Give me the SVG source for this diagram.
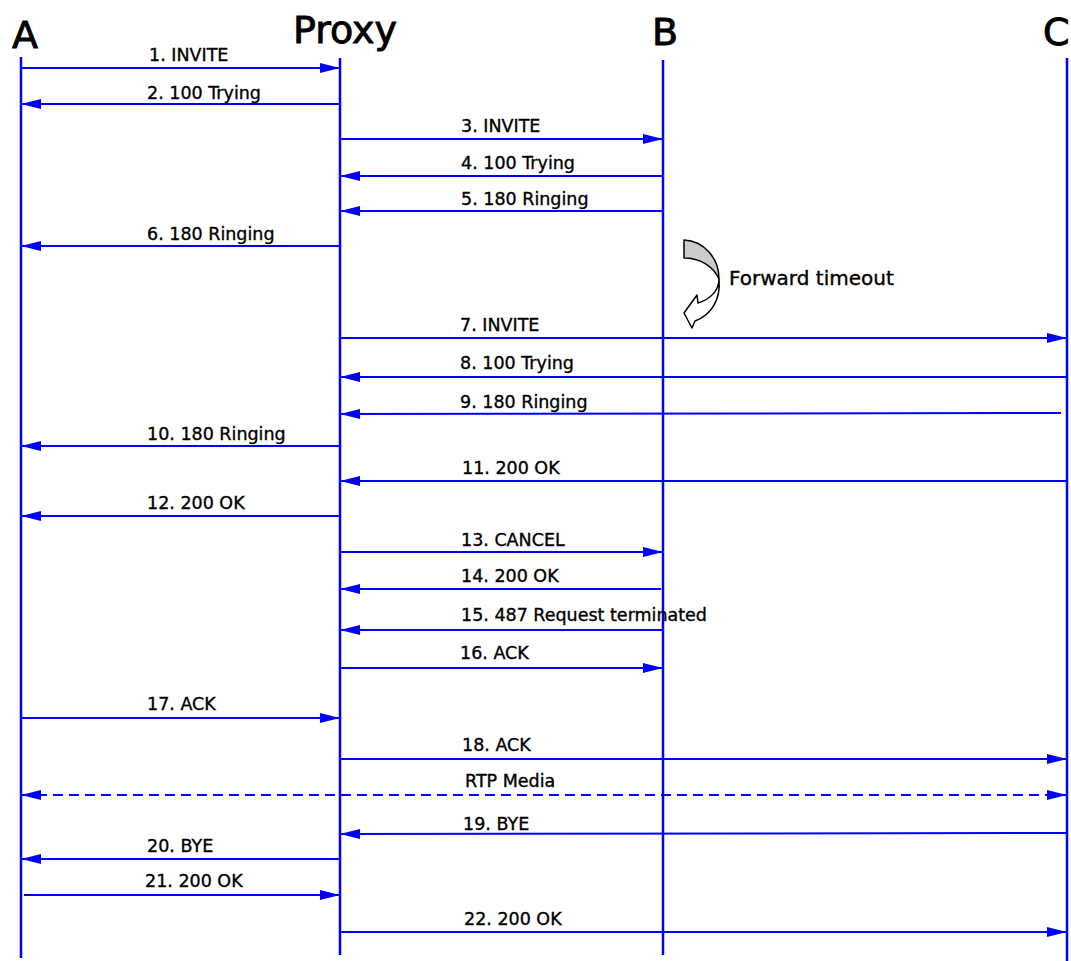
<svg xmlns="http://www.w3.org/2000/svg" width="1071" height="961" viewBox="0 0 1071 961">
<style>
.life{stroke:#0000ff;stroke-width:2.5;fill:none}
.msg{stroke:#0000ff;stroke-width:2;fill:none;marker-end:url(#ah)}
.dash{stroke:#0000ff;stroke-width:2;fill:none;stroke-dasharray:10 6;marker-end:url(#ah);marker-start:url(#ah)}
.lbl{font-family:"DejaVu Sans","Liberation Sans",sans-serif;font-size:17.5px;fill:#000;stroke:#000;stroke-width:0.35}
.hdr{font-family:"DejaVu Sans","Liberation Sans",sans-serif;font-size:38px;fill:#000;stroke:#000;stroke-width:0.9}
</style>
<defs>
<marker id="ah" markerUnits="userSpaceOnUse" markerWidth="20" markerHeight="10" refX="20" refY="5" orient="auto-start-reverse" overflow="visible">
<path d="M0,0 L20,5 L0,10 z" fill="#0000ff"/>
</marker>
</defs>
<rect width="1071" height="961" fill="#ffffff"/>
<g id="A"><text class="hdr" x="12" y="48">A</text><line class="life" x1="21" y1="57" x2="21" y2="958"/></g>
<g id="Proxy"><text class="hdr" x="293" y="43">Proxy</text><line class="life" x1="340" y1="58" x2="340" y2="955"/></g>
<g id="B"><text class="hdr" x="652" y="45">B</text><line class="life" x1="663" y1="60" x2="663" y2="955"/></g>
<g id="C"><text class="hdr" x="1043" y="45">C</text><line class="life" x1="1067" y1="58" x2="1067" y2="961"/></g>
<g id="timeout">
<path d="M684,240 C704,241 719,258 719,279 C713,266 700,258 684,258 Z" fill="#cccccc" stroke="#000" stroke-width="1.5" stroke-linejoin="round"/>
<path d="M719,279 C719,290 711,299 698,303 L697,295 L684,313 L692,328 L695,321 C711,315 721,300 719,279 Z" fill="#ffffff" stroke="#000" stroke-width="1.5" stroke-linejoin="round"/>
<text class="lbl" x="729" y="285" style="font-size:20px">Forward timeout</text>
</g>
<g id="connectors">
<line class="msg" x1="21" y1="68" x2="340" y2="68"/>
<line class="msg" x1="340" y1="104" x2="21" y2="104"/>
<line class="msg" x1="340" y1="139" x2="663" y2="139"/>
<line class="msg" x1="663" y1="176" x2="340" y2="176"/>
<line class="msg" x1="663" y1="211" x2="340" y2="211"/>
<line class="msg" x1="340" y1="246" x2="21" y2="246"/>
<line class="msg" x1="340" y1="338" x2="1067" y2="338"/>
<line class="msg" x1="1067" y1="377" x2="340" y2="377"/>
<line class="msg" x1="1061" y1="413" x2="340" y2="414"/>
<line class="msg" x1="340" y1="446" x2="21" y2="446"/>
<line class="msg" x1="1067" y1="481" x2="340" y2="481"/>
<line class="msg" x1="340" y1="516" x2="21" y2="516"/>
<line class="msg" x1="340" y1="552" x2="663" y2="552"/>
<line class="msg" x1="661" y1="589" x2="340" y2="589"/>
<line class="msg" x1="663" y1="630" x2="340" y2="630"/>
<line class="msg" x1="340" y1="668" x2="663" y2="668"/>
<line class="msg" x1="21" y1="718" x2="340" y2="718"/>
<line class="msg" x1="340" y1="759" x2="1067" y2="759"/>
<line class="dash" x1="21" y1="795" x2="1067" y2="795"/>
<line class="msg" x1="1067" y1="833" x2="340" y2="834"/>
<line class="msg" x1="340" y1="859" x2="21" y2="859"/>
<line class="msg" x1="24" y1="895" x2="340" y2="895"/>
<line class="msg" x1="340" y1="932" x2="1067" y2="932"/>
</g>
<g id="labels">
<text class="lbl" x="149" y="61">1. INVITE</text>
<text class="lbl" x="147" y="99">2. 100 Trying</text>
<text class="lbl" x="461" y="132">3. INVITE</text>
<text class="lbl" x="461" y="169">4. 100 Trying</text>
<text class="lbl" x="461" y="205">5. 180 Ringing</text>
<text class="lbl" x="147" y="240">6. 180 Ringing</text>
<text class="lbl" x="460" y="331">7. INVITE</text>
<text class="lbl" x="460" y="369">8. 100 Trying</text>
<text class="lbl" x="460" y="408">9. 180 Ringing</text>
<text class="lbl" x="147" y="440">10. 180 Ringing</text>
<text class="lbl" x="462" y="474">11. 200 OK</text>
<text class="lbl" x="147" y="509">12. 200 OK</text>
<text class="lbl" x="461" y="546">13. CANCEL</text>
<text class="lbl" x="461" y="582">14. 200 OK</text>
<text class="lbl" x="461" y="621">15. 487 Request terminated</text>
<text class="lbl" x="460" y="659">16. ACK</text>
<text class="lbl" x="147" y="710">17. ACK</text>
<text class="lbl" x="462" y="751">18. ACK</text>
<text class="lbl" x="465" y="787">RTP Media</text>
<text class="lbl" x="463" y="830">19. BYE</text>
<text class="lbl" x="147" y="852">20. BYE</text>
<text class="lbl" x="145" y="887">21. 200 OK</text>
<text class="lbl" x="464" y="925">22. 200 OK</text>
</g>
</svg>
